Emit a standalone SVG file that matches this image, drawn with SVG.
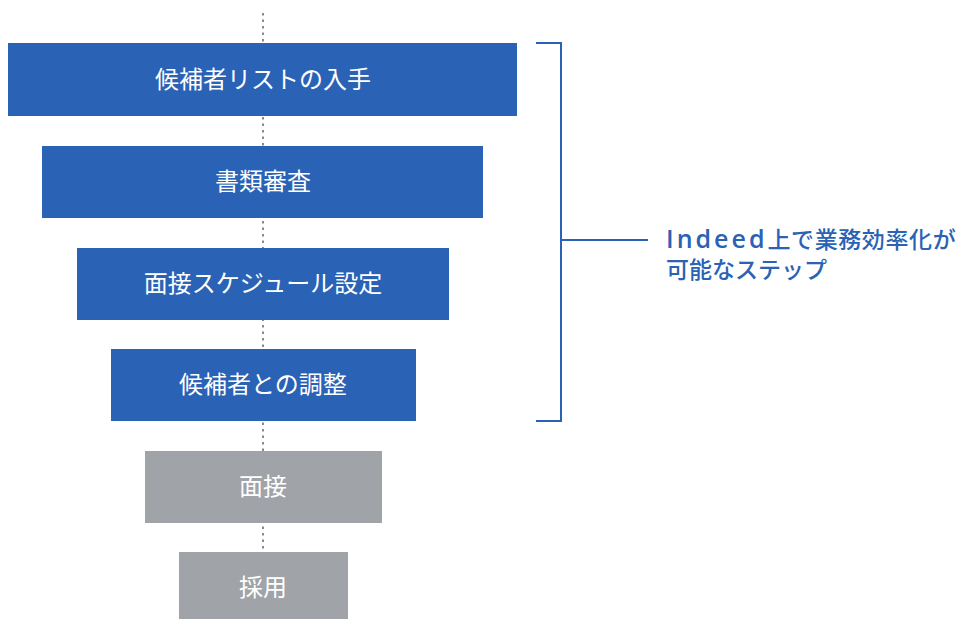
<svg xmlns="http://www.w3.org/2000/svg" width="964" height="619" viewBox="0 0 964 619">
<style>
.blue{fill:#2A62B5}
.gray{fill:#A0A3A7}
.lbl{font-family:"Noto Sans CJK JP","Noto Sans",sans-serif;font-size:24px;fill:#fff;text-anchor:middle;font-weight:400}
.dot{stroke:#666;stroke-width:1.5;stroke-dasharray:2.5,4;fill:none}
.br{stroke:#2A62B5;stroke-width:2;fill:none}
.note{font-family:"Noto Sans CJK JP","Noto Sans",sans-serif;font-size:23px;fill:#2A62B5;font-weight:500}
</style>
<rect width="964" height="619" fill="#fff"/>
<g id="connectors">
<line class="dot" x1="263" y1="13" x2="263" y2="619"/>
<path class="br" d="M536 43H561V421H536M561 240H648"/>
</g>
<g id="n1"><rect class="blue" x="8" y="43" width="509" height="73"/><text class="lbl" x="263" y="88">候補者リストの入手</text></g>
<g id="n2"><rect class="blue" x="42" y="146" width="441" height="72"/><text class="lbl" x="263" y="190">書類審査</text></g>
<g id="n3"><rect class="blue" x="77" y="248" width="372" height="72"/><text class="lbl" x="263" y="292">面接スケジュール設定</text></g>
<g id="n4"><rect class="blue" x="111" y="349" width="305" height="72"/><text class="lbl" x="263" y="393">候補者との調整</text></g>
<g id="n5"><rect class="gray" x="145" y="451" width="237" height="72"/><text class="lbl" x="263" y="495">面接</text></g>
<g id="n6"><rect class="gray" x="179" y="552" width="169" height="72"/><text class="lbl" x="263" y="596">採用</text></g>
<g id="note"><text class="note" x="666" y="248" letter-spacing="0.6"><tspan font-family="'Open Sans',sans-serif" font-size="25" font-weight="600" letter-spacing="3">Indeed</tspan>上で業務効率化が</text><text class="note" x="666" y="278">可能なステップ</text></g>
</svg>
